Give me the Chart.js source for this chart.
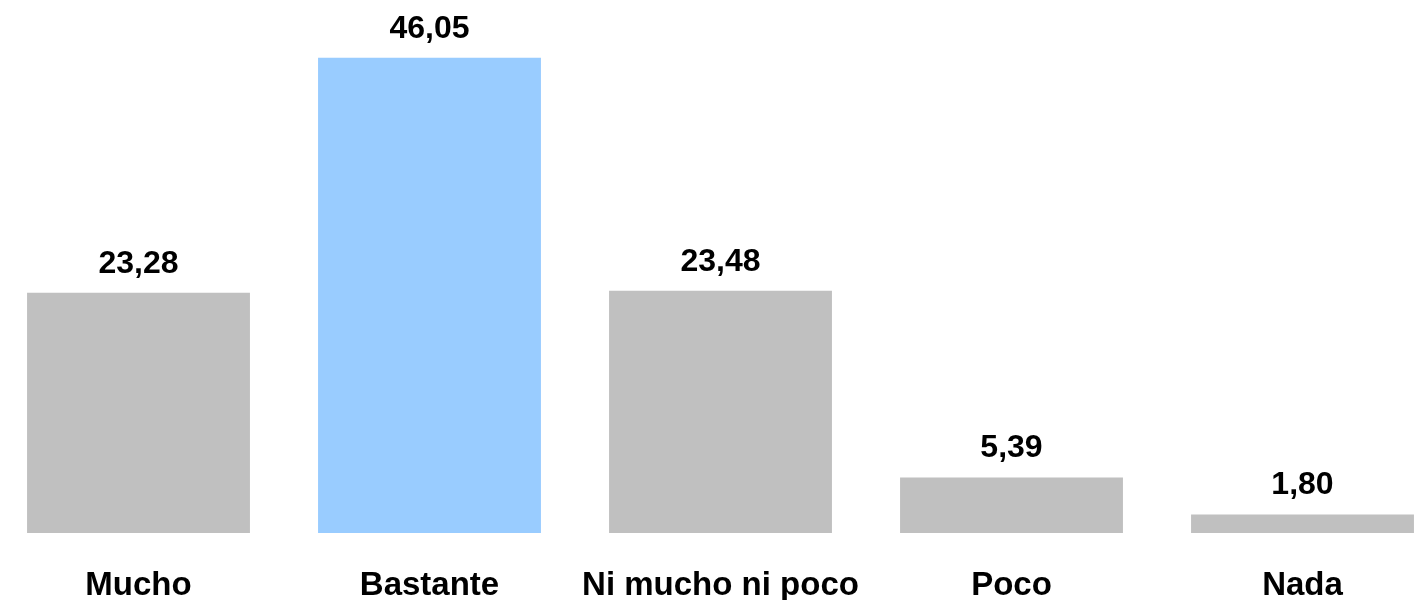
<!DOCTYPE html>
<html>
<head>
<meta charset="utf-8">
<script src="https://cdn.jsdelivr.net/npm/chart.js@4/dist/chart.umd.min.js"></script>
<style>
  html, body { margin: 0; padding: 0; background: #fff; overflow: hidden; }
  #wrap { position: relative; width: 1455px; height: 600px; margin-left: -7px; }
</style>
</head>
<body>
<div id="wrap"><canvas id="chart1"></canvas></div>
<script>
// datos
const categorias = ['Mucho', 'Bastante', 'Ni mucho ni poco', 'Poco', 'Nada'];
const valores = [23.28, 46.05, 23.48, 5.39, 1.80];
const colores = ['#c0c0c0', '#99ccff', '#c0c0c0', '#c0c0c0', '#c0c0c0'];

const fuente = '"Liberation Sans", Arial, sans-serif';

// etiquetas encima de cada barra
const etiquetasValor = {
  id: 'etiquetasValor',
  afterDatasetsDraw(chart) {
    const ctx = chart.ctx;
    const meta = chart.getDatasetMeta(0);
    ctx.save();
    ctx.font = 'bold 32px ' + fuente;
    ctx.fillStyle = '#000';
    ctx.textAlign = 'center';
    ctx.textBaseline = 'alphabetic';
    meta.data.forEach((bar, i) => {
      const txt = valores[i].toFixed(2).replace('.', ',');
      ctx.fillText(txt, bar.x, bar.y - 20);
    });
    ctx.restore();
  }
};

new Chart(document.getElementById('chart1'), {
  type: 'bar',
  data: {
    labels: categorias,
    datasets: [{
      data: valores,
      backgroundColor: colores,
      borderWidth: 0,
      categoryPercentage: 1,
      barPercentage: 0.766
    }]
  },
  options: {
    responsive: true,
    maintainAspectRatio: false,
    animation: false,
    layout: { padding: { top: 17, left: 0, right: 0, bottom: 0 } },
    plugins: {
      legend: { display: false },
      tooltip: { enabled: false }
    },
    scales: {
      x: {
        grid: { display: false, drawTicks: false },
        border: { display: false },
        ticks: {
          color: '#000',
          padding: 33,
          font: { family: fuente, size: 33, weight: 'bold' }
        },
        afterFit(scale) { scale.height = 67; }
      },
      y: {
        display: false,
        min: 0,
        max: 50
      }
    }
  },
  plugins: [etiquetasValor]
});
</script>
</body>
</html>
